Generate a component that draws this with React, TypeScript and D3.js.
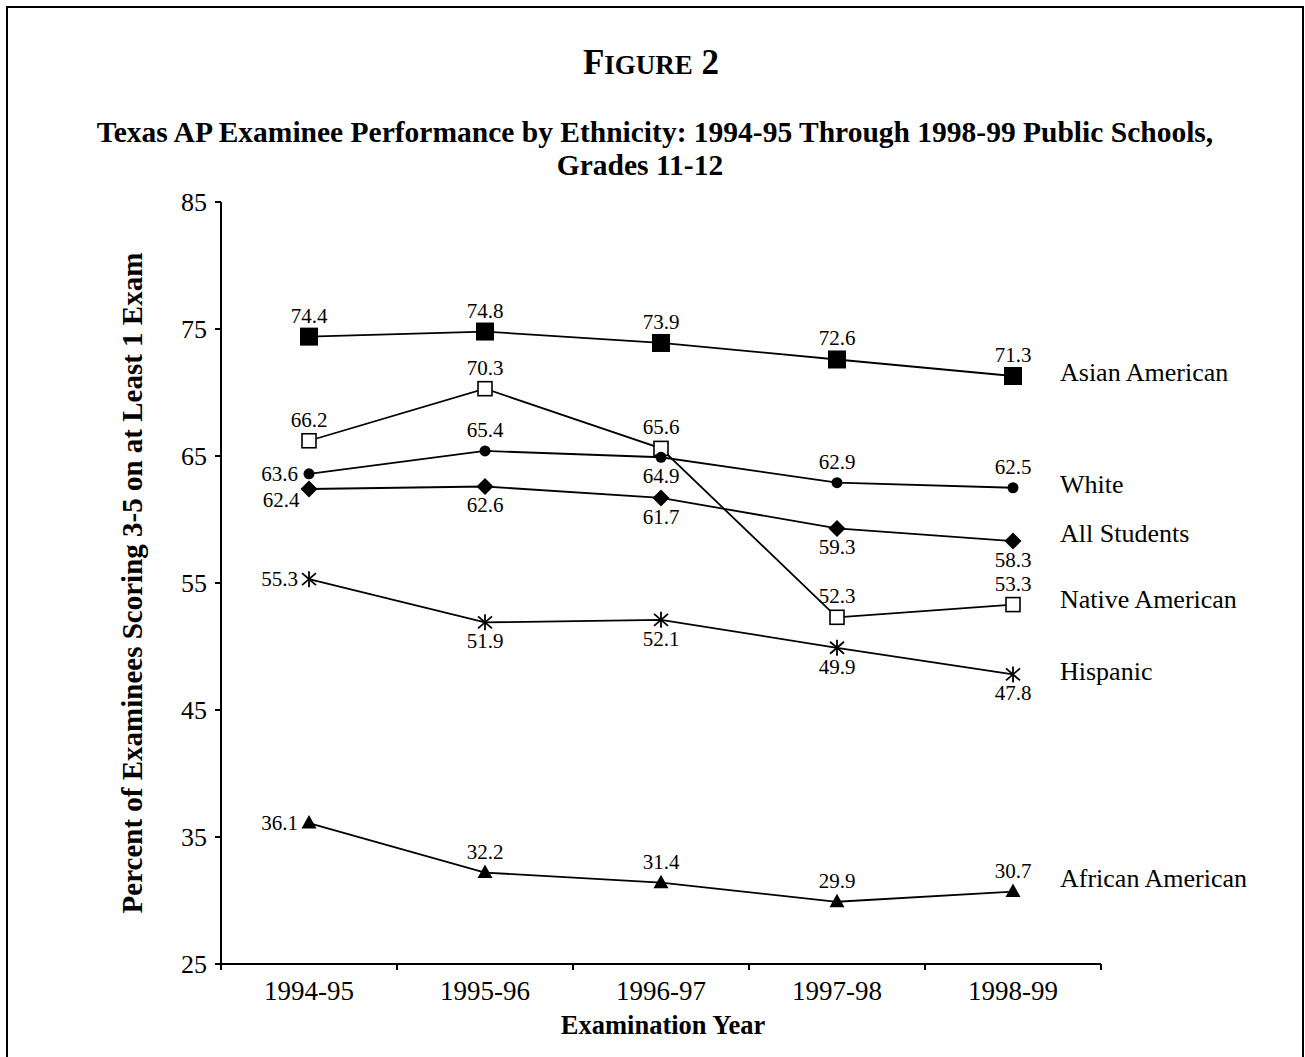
import React from "react";
import * as d3 from "d3";

const categories = ["1994-95", "1995-96", "1996-97", "1997-98", "1998-99"];
const asianAmerican = [74.4, 74.8, 73.9, 72.6, 71.3];
const nativeAmerican = [66.2, 70.3, 65.6, 52.3, 53.3];
const white = [63.6, 65.4, 64.9, 62.9, 62.5];
const allStudents = [62.4, 62.6, 61.7, 59.3, 58.3];
const hispanic = [55.3, 51.9, 52.1, 49.9, 47.8];
const africanAmerican = [36.1, 32.2, 31.4, 29.9, 30.7];
const yTicks = [25, 35, 45, 55, 65, 75, 85];

type Place = "above" | "below" | "left" | "belowLeft";
const series: { name: string; values: number[]; marker: string; places: Place[]; nameY: number }[] = [
  { name: "Native American", values: nativeAmerican, marker: "openSquare", places: ["above", "above", "above", "above", "above"], nameY: 608 },
  { name: "Asian American", values: asianAmerican, marker: "square", places: ["above", "above", "above", "above", "above"], nameY: 381 },
  { name: "White", values: white, marker: "circle", places: ["left", "above", "below", "above", "above"], nameY: 493 },
  { name: "All Students", values: allStudents, marker: "diamond", places: ["belowLeft", "below", "below", "below", "below"], nameY: 542 },
  { name: "Hispanic", values: hispanic, marker: "star", places: ["left", "below", "below", "below", "below"], nameY: 680 },
  { name: "African American", values: africanAmerican, marker: "triangle", places: ["left", "above", "above", "above", "above"], nameY: 887 },
];

const FONT = "'Liberation Serif', 'Times New Roman', Times, serif";

function Marker({ type, x, y }: { type: string; x: number; y: number }) {
  switch (type) {
    case "square":
      return <rect x={x - 9} y={y - 9} width={18} height={18} fill="#000" />;
    case "openSquare":
      return <rect x={x - 7} y={y - 7} width={14} height={14} fill="#fff" stroke="#000" strokeWidth={1.6} />;
    case "circle":
      return <circle cx={x} cy={y} r={5.5} fill="#000" />;
    case "diamond":
      return <path d={`M${x},${y - 8.5}L${x + 8.5},${y}L${x},${y + 8.5}L${x - 8.5},${y}Z`} fill="#000" />;
    case "triangle":
      return <path d={`M${x},${y - 8}L${x + 7.5},${y + 5.5}L${x - 7.5},${y + 5.5}Z`} fill="#000" />;
    case "star":
      return (
        <g stroke="#000" strokeWidth={1.8}>
          <line x1={x} y1={y - 8} x2={x} y2={y + 8} />
          <line x1={x - 7} y1={y - 6} x2={x + 7} y2={y + 6} />
          <line x1={x - 7} y1={y + 6} x2={x + 7} y2={y - 6} />
        </g>
      );
    default:
      return null;
  }
}

export default function App() {
  const W = 1305, H = 1057;
  const x = d3.scaleBand().domain(categories).range([221, 1101]);
  const y = d3.scaleLinear().domain([25, 85]).range([964, 202]);
  const cx = (c: string) => (x(c) as number) + x.bandwidth() / 2;
  const line = d3.line<number>().x((_, i) => cx(categories[i])).y((v) => y(v));
  const bounds = [...categories.map((c) => x(c) as number), 1101];

  return (
    <svg width={W} height={H} style={{ position: "absolute", left: 0, top: 0, background: "#fff" }} fontFamily={FONT}>
      <rect x={0} y={0} width={W} height={H} fill="#fff" />
      <rect x={7} y={7} width={1296} height={1070} fill="none" stroke="#000" strokeWidth={2} />

      <text x={651} y={74} textAnchor="middle" fontWeight="bold" fontSize={35}>
        F<tspan fontSize={27}>IGURE</tspan> 2
      </text>
      <text x={655} y={142} textAnchor="middle" fontWeight="bold" fontSize={29.5}>
        Texas AP Examinee Performance by Ethnicity: 1994-95 Through 1998-99 Public Schools,
      </text>
      <text x={640} y={175} textAnchor="middle" fontWeight="bold" fontSize={29.5}>
        Grades 11-12
      </text>

      {/* y axis */}
      <line x1={221} y1={y(85)} x2={221} y2={y(25)} stroke="#000" strokeWidth={2} />
      {yTicks.map((t) => (
        <g key={t}>
          <line x1={215} x2={221} y1={y(t)} y2={y(t)} stroke="#000" strokeWidth={2} />
          <text x={207} y={y(t) + 8.5} textAnchor="end" fontSize={26}>{t}</text>
        </g>
      ))}
      <text transform={`translate(142,${(y(25) + y(85)) / 2}) rotate(-90)`} textAnchor="middle" fontWeight="bold" fontSize={29}>
        Percent of Examinees Scoring 3-5 on at Least 1 Exam
      </text>

      {/* x axis */}
      <line x1={221} y1={y(25)} x2={1101} y2={y(25)} stroke="#000" strokeWidth={2} />
      {bounds.map((b, i) => (
        <line key={i} x1={b} x2={b} y1={y(25)} y2={y(25) + 6} stroke="#000" strokeWidth={2} />
      ))}
      {categories.map((c) => (
        <text key={c} x={cx(c)} y={1000} textAnchor="middle" fontSize={27}>{c}</text>
      ))}
      <text x={663} y={1034} textAnchor="middle" fontWeight="bold" fontSize={26.5}>Examination Year</text>

      {/* lines */}
      {series.map((s) => (
        <path key={s.name + "l"} d={line(s.values) || ""} fill="none" stroke="#000" strokeWidth={1.8} />
      ))}
      {/* markers */}
      {series.map((s) =>
        s.values.map((v, i) => <Marker key={s.name + i} type={s.marker} x={cx(categories[i])} y={y(v)} />)
      )}
      {/* data labels */}
      {series.map((s) =>
        s.values.map((v, i) => {
          const px = cx(categories[i]);
          const py = y(v);
          const p = s.places[i];
          let tx = px, ty = py - 14, anchor = "middle";
          if (p === "below") ty = py + 26;
          if (p === "left") { tx = px - 11; ty = py + 7; anchor = "end"; }
          if (p === "belowLeft") { tx = px - 28; ty = py + 18; }
          return (
            <text key={s.name + "t" + i} x={tx} y={ty} textAnchor={anchor} fontSize={21}>{v.toFixed(1)}</text>
          );
        })
      )}
      {/* series names */}
      {series.map((s) => (
        <text key={s.name + "n"} x={1060} y={s.nameY} fontSize={26}>{s.name}</text>
      ))}
    </svg>
  );
}
